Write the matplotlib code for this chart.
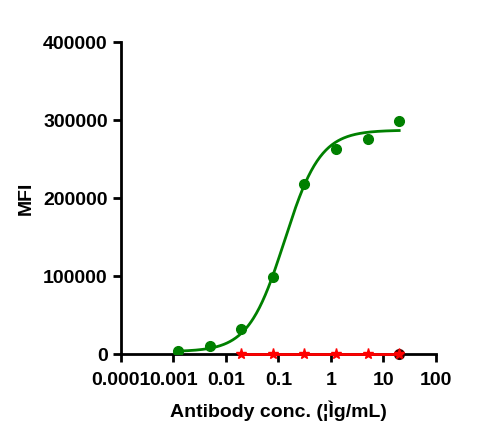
import numpy as np
import matplotlib.pyplot as plt
from matplotlib.ticker import LogLocator, FixedLocator

plt.rcParams['font.family'] = ['Liberation Sans', 'DejaVu Sans']
plt.rcParams['font.weight'] = 'bold'

conc = [0.00122, 0.00488, 0.0195, 0.078, 0.3125, 1.25, 5, 20]
mfi_green = [3800, 10300, 32000, 98700, 218000, 263000, 276000, 299000]
conc_red = [0.0195, 0.078, 0.3125, 1.25, 5, 20]
mfi_red = [0, 0, 0, 0, 0, 0]
conc_dark = [20]
mfi_dark = [0]

# 4PL fit parameters
bottom, top, ec50, hill = 3000, 287000, 0.13, 1.27

xt = [0.0001, 0.001, 0.01, 0.1, 1, 10, 100]
xt_labels = ['0.0001', '0.001', '0.01', '0.1', '1', '10', '100']
yt = [0, 100000, 200000, 300000, 400000]

fig = plt.figure(figsize=(4.99, 4.47), dpi=100)
ax = fig.add_axes([0.2425, 0.208, 0.631, 0.698])

xs = np.logspace(np.log10(conc[0]), np.log10(conc[-1]), 300)
ys = bottom + (top - bottom) / (1 + (ec50 / xs) ** hill)
ax.plot(xs, ys, color='#008000', lw=2, zorder=2)
ax.plot(conc, mfi_green, 'o', color='#008000', ms=7, zorder=3)

ax.plot(conc_dark, mfi_dark, 'o', color='#3a0000', ms=7, zorder=4, clip_on=False)
ax.plot(conc_red, mfi_red, '-', color='red', lw=2, zorder=4, clip_on=False)
ax.plot(conc_red, mfi_red, '*', color='red', ms=8, zorder=5, clip_on=False)

ax.set_xscale('log')
ax.set_xlim(0.0001, 100)
ax.set_ylim(0, 400000)
ax.xaxis.set_major_locator(FixedLocator(xt))
ax.set_xticks(xt)
ax.set_xticklabels(xt_labels)
ax.xaxis.set_minor_locator(LogLocator(base=10, subs=np.arange(2, 10)))
ax.set_yticks(yt)
ax.set_yticklabels([str(v) for v in yt])

for s in ['top', 'right']:
    ax.spines[s].set_visible(False)
for s in ['left', 'bottom']:
    ax.spines[s].set_linewidth(2)

ax.tick_params(axis='both', which='major', width=2, length=6, labelsize=14, direction='out')
ax.tick_params(axis='x', which='minor', width=1.5, length=3.5, direction='out')
ax.tick_params(axis='x', which='major', pad=7)

ax.set_xlabel('Antibody conc. (¦Ìg/mL)', fontsize=14, fontweight='bold', labelpad=8)
ax.set_ylabel('MFI', fontsize=14, fontweight='bold', labelpad=6)

fig.savefig('out.png', dpi=100)
